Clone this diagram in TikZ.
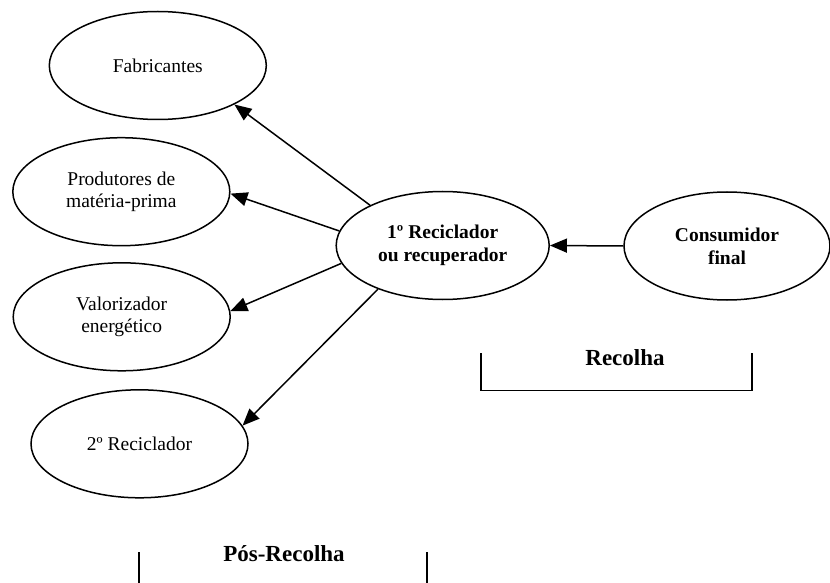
\documentclass[tikz,border=0pt]{standalone}
\usepackage{fontspec}
\setmainfont{Liberation Serif}
\usetikzlibrary{shapes.geometric,arrows.meta}
\begin{document}
\begin{tikzpicture}[x=1bp,y=-1bp,
  actor/.style={ellipse, draw, line width=1.5bp, inner sep=0pt,
    minimum width=217bp, minimum height=108bp, align=center,
    font=\fontsize{19.5bp}{22.5bp}\selectfont},
  keyactor/.style={actor, font=\fontsize{19.5bp}{23.3bp}\selectfont\bfseries},
  flow/.style={line width=1.5bp, -{Triangle[length=17bp,width=14bp]}},
  phase/.style={font=\fontsize{23bp}{26bp}\selectfont\bfseries, anchor=base},
  bracket/.style={line width=1.5bp}]
\useasboundingbox (0,0) rectangle (830,583);

% actors of the recovery chain
\node[actor] (fab)  at (157.8,65.5)  {Fabricantes};
\node[actor] (prod) at (121.3,191.7) {Produtores de\\matéria-prima};
\node[actor] (val)  at (121.7,316.8) {Valorizador\\energético};
\node[actor] (rec2) at (139.5,443.8) {2º Reciclador};
\node[keyactor, minimum width=213bp] (rec1) at (442.7,245.5) {1º Reciclador\\ou recuperador};
\node[keyactor, minimum width=206bp] (cons) at (727,246) {Consumidor\\final};

% material flows
\draw[flow] (cons.west) -- (rec1.east);
\draw[flow] (rec1.151) -- (fab.-27);
\draw[flow] (rec1.172) -- (prod.-1);
\draw[flow] (rec1.190) -- (val.3);
\draw[flow] (rec1.214) -- (rec2.10);

% phase brackets
\node[phase] (recolha) at (625,365) {Recolha};
\coordinate (ra) at (481,353);
\coordinate (rb) at (481,390.5);
\coordinate (rc) at (752,390.5);
\coordinate (rd) at (752,353);
\draw[bracket] (ra) -- (rb) -- (rc) -- (rd);

\node[phase] (posrecolha) at (284,561.7) {Pós-Recolha};
\coordinate (pa) at (139,552);
\coordinate (pb) at (139,584);
\coordinate (pc) at (427,552);
\coordinate (pd) at (427,584);
\draw[bracket] (pa) -- (pb);
\draw[bracket] (pc) -- (pd);
\end{tikzpicture}
\end{document}
